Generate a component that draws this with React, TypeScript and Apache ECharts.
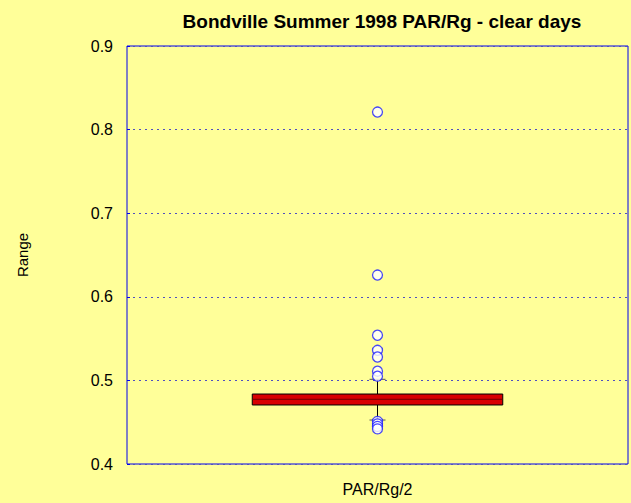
import React, { useEffect, useRef } from "react";
import * as echarts from "echarts";

const categories = ["PAR/Rg/2"];
// [lowerWhisker, Q1, median, Q3, upperWhisker]
const boxStats = [[0.4526, 0.4706, 0.4774, 0.4837, 0.5013]];
const outliers = [0.821, 0.626, 0.554, 0.536, 0.528, 0.511, 0.505, 0.451, 0.448, 0.445, 0.442];
const yTicks = [0.4, 0.5, 0.6, 0.7, 0.8, 0.9];

export default function App() {
  const ref = useRef<HTMLDivElement>(null);
  useEffect(() => {
    if (!ref.current) return;
    const chart = echarts.init(ref.current, null, { renderer: "svg", width: 631, height: 503 });
    const font = "Liberation Sans, Arial, sans-serif";
    chart.setOption({
      animation: false,
      backgroundColor: "#ffff99",
      title: {
        text: "Bondville Summer 1998 PAR/Rg - clear days",
        left: 377,
        textAlign: "center",
        top: 7,
        textStyle: { fontFamily: font, fontSize: 19, fontWeight: "bold", color: "#000" },
      },
      grid: {
        left: 127,
        right: 3,
        top: 46,
        bottom: 39,
        show: true,
        borderColor: "#0000ee",
        borderWidth: 1,
        backgroundColor: "transparent",
      },
      xAxis: {
        type: "category",
        data: categories,
        boundaryGap: true,
        axisLine: { show: false },
        axisTick: { show: false },
        axisLabel: { show: false },
        splitLine: { show: false },
        name: categories[0],
        nameLocation: "middle",
        nameGap: 17,
        nameTextStyle: { fontFamily: font, fontSize: 16, color: "#000" },
      },
      yAxis: {
        type: "value",
        min: yTicks[0],
        max: yTicks[yTicks.length - 1],
        interval: 0.1,
        axisLine: { show: false },
        axisTick: { show: true, inside: true, length: 3, lineStyle: { color: "#0000ee" } },
        axisLabel: {
          fontFamily: font,
          fontSize: 16,
          color: "#000",
          margin: 14,
          formatter: (v: number) => v.toFixed(1),
        },
        splitLine: {
          show: true,
          lineStyle: { type: [2, 4], color: "#5050c0", width: 1 },
        },
        name: "Range",
        nameLocation: "middle",
        nameGap: 97,
        nameTextStyle: { fontFamily: font, fontSize: 15, color: "#000" },
      },
      series: [
        {
          type: "custom",
          data: boxStats.map((s, i) => [i, ...s]),
          encode: { x: 0, y: [1, 2, 3, 4, 5] },
          z: 2,
          renderItem: (params: any, api: any) => {
            const x = api.value(0);
            const lo = api.coord([x, api.value(1)]);
            const q1 = api.coord([x, api.value(2)]);
            const med = api.coord([x, api.value(3)]);
            const q3 = api.coord([x, api.value(4)]);
            const hi = api.coord([x, api.value(5)]);
            const band = api.size([1, 0])[0];
            const halfW = band * 0.25;
            const cap = 8;
            const cx = lo[0];
            return {
              type: "group",
              children: [
                { type: "line", shape: { x1: cx, y1: q3[1], x2: cx, y2: hi[1] }, style: { stroke: "#000", lineWidth: 1 } },
                { type: "line", shape: { x1: cx, y1: q1[1], x2: cx, y2: lo[1] }, style: { stroke: "#000", lineWidth: 1 } },
                { type: "line", shape: { x1: cx - cap, y1: hi[1], x2: cx + cap, y2: hi[1] }, style: { stroke: "#555", lineWidth: 1 } },
                { type: "line", shape: { x1: cx - cap, y1: lo[1], x2: cx + cap, y2: lo[1] }, style: { stroke: "#555", lineWidth: 1 } },
                {
                  type: "rect",
                  shape: { x: cx - halfW, y: q3[1], width: halfW * 2, height: q1[1] - q3[1] },
                  style: { fill: "#d80000", stroke: "#000", lineWidth: 1 },
                },
                { type: "line", shape: { x1: cx - halfW, y1: med[1], x2: cx + halfW, y2: med[1] }, style: { stroke: "#700000", lineWidth: 1 } },
              ],
            };
          },
        },
        {
          type: "scatter",
          data: outliers.map((v) => [0, v]),
          symbol: "circle",
          symbolSize: 10,
          z: 3,
          itemStyle: { color: "#ffffff", borderColor: "#1a1aff", borderWidth: 1.3 },
        },
      ],
    });
    return () => chart.dispose();
  }, []);
  return (
    <div
      ref={ref}
      style={{ position: "fixed", left: 0, top: 0, width: 631, height: 503 }}
    />
  );
}
